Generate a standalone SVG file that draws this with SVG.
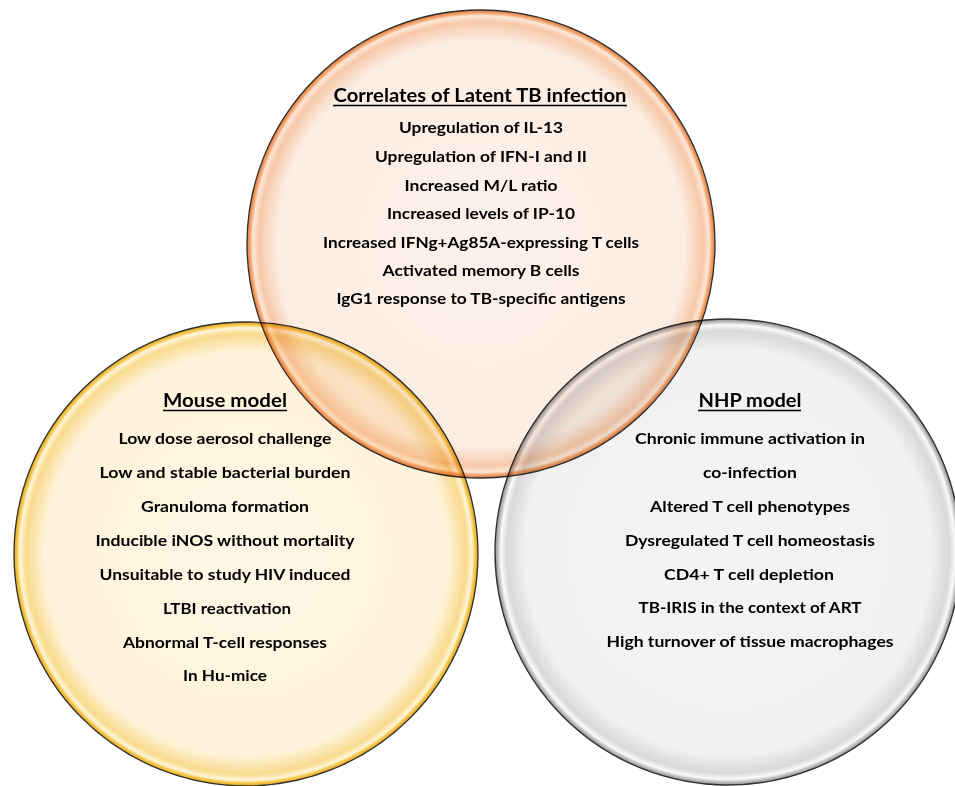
<svg xmlns="http://www.w3.org/2000/svg" width="955" height="786" viewBox="0 0 955 786">
<defs>
<radialGradient id="gTop" cx="0.5" cy="0.5" r="0.5">
<stop offset="0" stop-color="#FBF1EA"/>
<stop offset="0.87" stop-color="#FBEDE3"/>
<stop offset="0.95" stop-color="#F7C9A9"/>
<stop offset="0.975" stop-color="#FCE7D8"/>
<stop offset="0.988" stop-color="#F2A068"/>
<stop offset="1" stop-color="#DD7D42"/>
</radialGradient>
<radialGradient id="gLeft" cx="0.5" cy="0.5" r="0.5">
<stop offset="0" stop-color="#FEF7E6"/>
<stop offset="0.87" stop-color="#FEF3DA"/>
<stop offset="0.95" stop-color="#F9DA8E"/>
<stop offset="0.975" stop-color="#FFF6D8"/>
<stop offset="0.988" stop-color="#F6C444"/>
<stop offset="1" stop-color="#DCA625"/>
</radialGradient>
<radialGradient id="gRight" cx="0.5" cy="0.5" r="0.5">
<stop offset="0" stop-color="#F4F4F4"/>
<stop offset="0.87" stop-color="#F1F1F1"/>
<stop offset="0.95" stop-color="#D8D8D8"/>
<stop offset="0.975" stop-color="#FAFAFA"/>
<stop offset="0.988" stop-color="#BDBDBD"/>
<stop offset="1" stop-color="#8F8F8F"/>
</radialGradient>
</defs>
<style>
.c{mix-blend-mode:multiply;stroke:#2E2E2E;stroke-width:1.3}
text{font-family:Lato,"Open Sans","Liberation Sans",sans-serif;font-weight:bold;fill:#000;text-anchor:middle}
.t{font-size:18.5px}
.i{font-size:16px}
.u{stroke:#000;stroke-width:1.4}
</style>
<g id="connectors"></g>
<g id="mouse">
<circle class="c" cx="246" cy="554" r="232" fill="url(#gLeft)"/>
</g>
<g id="nhp">
<circle class="c" cx="728" cy="552" r="233" fill="url(#gRight)"/>
</g>
<g id="latent">
<circle class="c" cx="481" cy="244" r="234" fill="url(#gTop)"/>
</g>
<g id="latent-text">
<text class="t" x="480" y="102" textLength="293" lengthAdjust="spacingAndGlyphs">Correlates of Latent TB infection</text>
<line class="u" x1="333" y1="105.5" x2="627" y2="105.5"/>
<text class="i" x="481" y="133" textLength="164" lengthAdjust="spacingAndGlyphs">Upregulation of IL-13</text>
<text class="i" x="481" y="162" textLength="212" lengthAdjust="spacingAndGlyphs">Upregulation of IFN-I and II</text>
<text class="i" x="481" y="191" textLength="153" lengthAdjust="spacingAndGlyphs">Increased M/L ratio</text>
<text class="i" x="481" y="219" textLength="188" lengthAdjust="spacingAndGlyphs">Increased levels of IP-10</text>
<text class="i" x="481" y="248" textLength="316" lengthAdjust="spacingAndGlyphs">Increased IFNg+Ag85A-expressing T cells</text>
<text class="i" x="481" y="276" textLength="197" lengthAdjust="spacingAndGlyphs">Activated memory B cells</text>
<text class="i" x="481" y="304" textLength="289" lengthAdjust="spacingAndGlyphs">IgG1 response to TB-specific antigens</text>
</g>
<g id="mouse-text">
<text class="t" x="225" y="407" textLength="124" lengthAdjust="spacingAndGlyphs">Mouse model</text>
<line class="u" x1="163" y1="410.5" x2="287" y2="410.5"/>
<text class="i" x="225" y="444" textLength="213" lengthAdjust="spacingAndGlyphs">Low dose aerosol challenge</text>
<text class="i" x="225" y="478" textLength="251" lengthAdjust="spacingAndGlyphs">Low and stable bacterial burden</text>
<text class="i" x="225" y="512" textLength="168" lengthAdjust="spacingAndGlyphs">Granuloma formation</text>
<text class="i" x="225" y="546" textLength="259" lengthAdjust="spacingAndGlyphs">Inducible iNOS without mortality</text>
<text class="i" x="225" y="580" textLength="251" lengthAdjust="spacingAndGlyphs">Unsuitable to study HIV induced</text>
<text class="i" x="227" y="614" textLength="128" lengthAdjust="spacingAndGlyphs">LTBI reactivation</text>
<text class="i" x="225" y="648" textLength="204" lengthAdjust="spacingAndGlyphs">Abnormal T-cell responses</text>
<text class="i" x="225" y="681" textLength="84" lengthAdjust="spacingAndGlyphs">In Hu-mice</text>
</g>
<g id="nhp-text">
<text class="t" x="750" y="407" textLength="103" lengthAdjust="spacingAndGlyphs">NHP model</text>
<line class="u" x1="698" y1="410.5" x2="801" y2="410.5"/>
<text class="i" x="750" y="444" textLength="230" lengthAdjust="spacingAndGlyphs">Chronic immune activation in</text>
<text class="i" x="750" y="478" textLength="94" lengthAdjust="spacingAndGlyphs">co-infection</text>
<text class="i" x="750" y="512" textLength="200" lengthAdjust="spacingAndGlyphs">Altered T cell phenotypes</text>
<text class="i" x="750" y="546" textLength="250" lengthAdjust="spacingAndGlyphs">Dysregulated T cell homeostasis</text>
<text class="i" x="749" y="580" textLength="170" lengthAdjust="spacingAndGlyphs">CD4+ T cell depletion</text>
<text class="i" x="750" y="613" textLength="223" lengthAdjust="spacingAndGlyphs">TB-IRIS in the context of ART</text>
<text class="i" x="750" y="647" textLength="287" lengthAdjust="spacingAndGlyphs">High turnover of tissue macrophages</text>
</g>
</svg>
